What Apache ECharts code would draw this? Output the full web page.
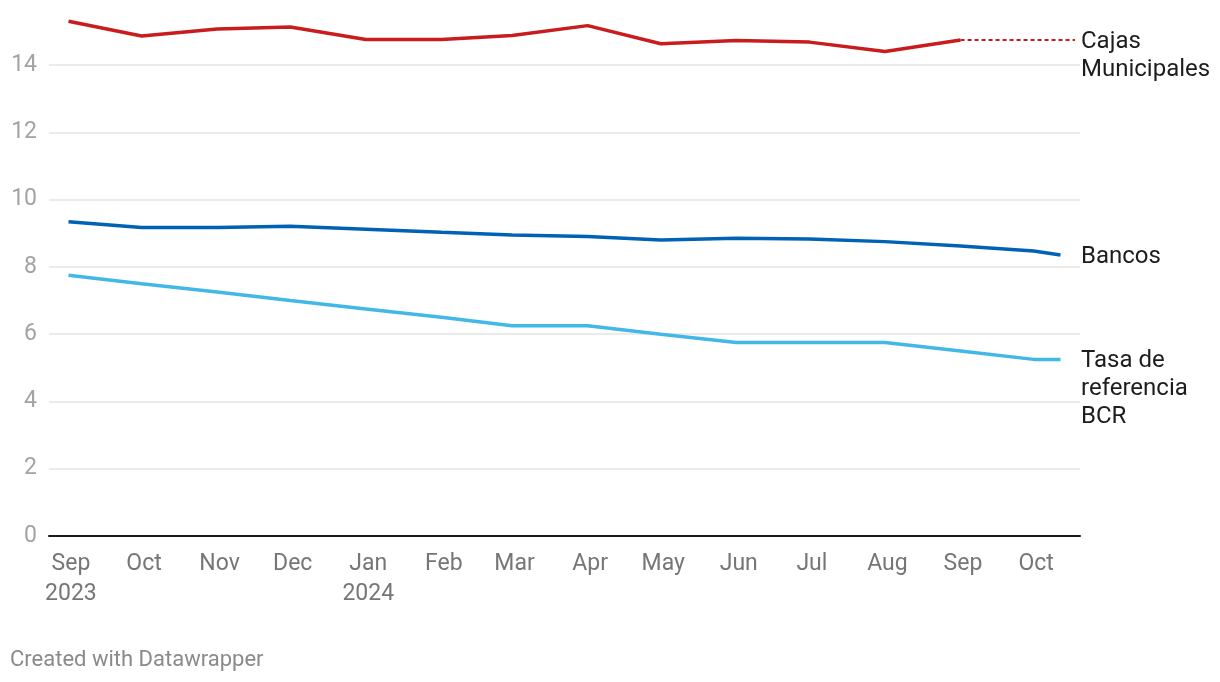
<!DOCTYPE html>
<html>
<head>
<meta charset="utf-8">
<script src="https://cdn.jsdelivr.net/npm/echarts@6/dist/echarts.min.js"></script>
<style>
html,body{margin:0;padding:0;background:#fff;}
#c{width:1220px;height:682px;}
</style>
</head>
<body>
<div id="c"></div>
<script>
// ---- data ----
const dates = ['2023-08-31','2023-09-30','2023-10-31','2023-11-30','2023-12-31','2024-01-31','2024-02-29','2024-03-31','2024-04-30','2024-05-31','2024-06-30','2024-07-31','2024-08-31','2024-09-30','2024-10-11'];
const cajas = [15.3, 14.86, 15.07, 15.13, 14.76, 14.76, 14.88, 15.17, 14.63, 14.73, 14.68, 14.4, 14.74, null, null];
const bancos = [9.34, 9.17, 9.17, 9.21, 9.12, 9.03, 8.95, 8.9, 8.8, 8.85, 8.83, 8.75, 8.62, 8.47, 8.35];
const tasa = [7.75, 7.5, 7.25, 7.0, 6.75, 6.5, 6.25, 6.25, 6.0, 5.75, 5.75, 5.75, 5.5, 5.25, 5.25];
const seriesNames = ['Cajas Municipales', 'Bancos', 'Tasa de referencia BCR'];
const endLabels = ['Cajas\nMunicipales', 'Bancos', 'Tasa de\nreferencia\nBCR'];
const monthNames = ['Jan','Feb','Mar','Apr','May','Jun','Jul','Aug','Sep','Oct','Nov','Dec'];
const yTicks = [0, 2, 4, 6, 8, 10, 12, 14];
const footer = 'Created with Datawrapper';

const colors = ['#c91d1d', '#0062b4', '#42b8e6'];
const xMin = '2023-08-23';
const xMax = '2024-10-19';

function pairs(vals) {
  const out = [];
  vals.forEach((v, i) => { if (v !== null) out.push([dates[i], v]); });
  return out;
}
const allSeries = [cajas, bancos, tasa].map(pairs);

const chart = echarts.init(document.getElementById('c'), null, {renderer: 'canvas'});

const option = {
  animation: false,
  backgroundColor: '#fff',
  textStyle: {fontFamily: 'Roboto'},
  grid: {left: 49, right: 140, top: 65, bottom: 146, containLabel: false},
  xAxis: {
    type: 'time',
    min: xMin,
    max: xMax,
    splitNumber: 14,
    minInterval: 28 * 86400000,
    maxInterval: 31 * 86400000,
    axisLine: {show: true, lineStyle: {color: '#1a1a1a', width: 2}},
    axisTick: {show: false},
    splitLine: {show: false},
    axisLabel: {
      color: '#767676',
      fontSize: 23,
      fontFamily: 'Roboto',
      lineHeight: 30,
      margin: 13,
      hideOverlap: false,
      formatter: function (val) {
        const d = new Date(val);
        if (d.getDate() !== 1) return '';
        const m = d.getMonth();
        const s = monthNames[m];
        if ((m === 8 && d.getFullYear() === 2023) || m === 0) return s + '\n' + d.getFullYear();
        return s;
      }
    }
  },
  yAxis: {
    type: 'value',
    min: yTicks[0],
    max: yTicks[yTicks.length - 1],
    interval: 2,
    axisLine: {show: false},
    axisTick: {show: false},
    splitLine: {show: true, lineStyle: {color: '#e4e4e4', width: 1.5}},
    axisLabel: {color: '#a3a3a3', fontSize: 23, fontFamily: 'Roboto', margin: 12}
  },
  series: allSeries.map((data, i) => ({
    name: seriesNames[i],
    type: 'line',
    data: data,
    showSymbol: false,
    symbol: 'none',
    clip: false,
    lineStyle: {color: colors[i], width: 3.5},
    itemStyle: {color: colors[i]},
    z: 3 - i
  }))
};
chart.setOption(option);

// end labels positioned from last data value of each series
const labelX = 1220 - 140 + 1;
const graphics = [];
allSeries.forEach((data, i) => {
  const last = data[data.length - 1];
  const p = chart.convertToPixel({gridIndex: 0}, last);
  if (i === 0) {
    graphics.push({
      type: 'line',
      shape: {x1: p[0], y1: p[1], x2: labelX - 6, y2: p[1]},
      style: {stroke: colors[0], lineWidth: 2, lineDash: [4, 3]},
      z: 10
    });
  }
  graphics.push({
    type: 'text',
    x: labelX,
    y: p[1] - 12,
    style: {text: endLabels[i], fill: '#1d1d1d', font: '24px Roboto', lineHeight: 28, verticalAlign: 'top'},
    z: 10
  });
});
graphics.push({
  type: 'text', x: 10, y: 660,
  style: {text: footer, fill: '#8a8a8a', font: '22px Roboto', verticalAlign: 'middle'}
});
chart.setOption({graphic: graphics});
</script>
</body>
</html>
